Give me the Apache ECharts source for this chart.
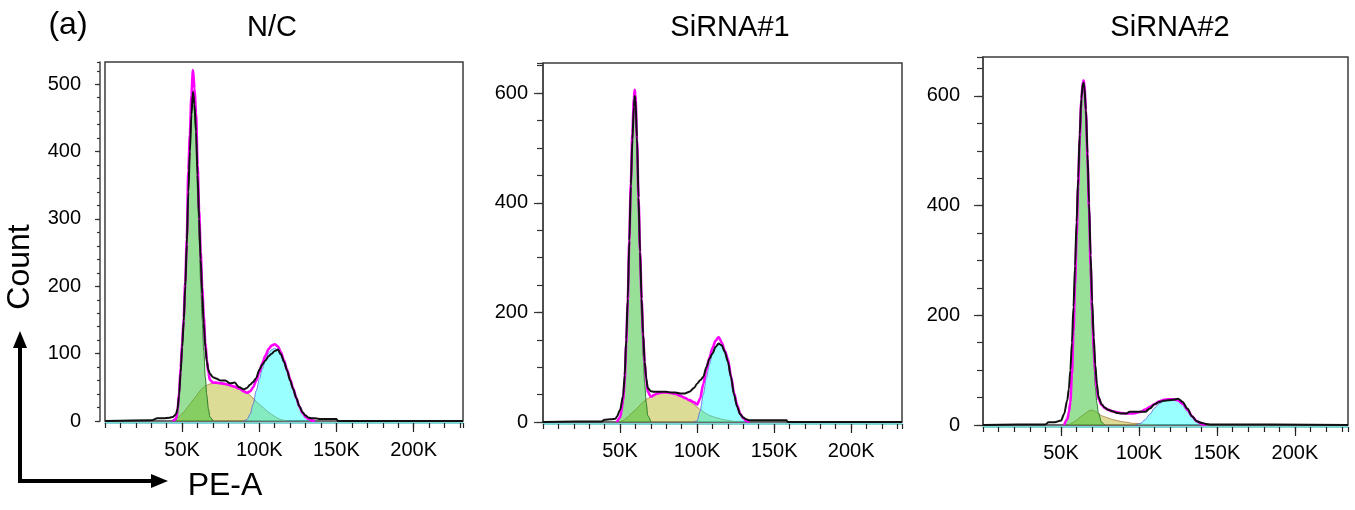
<!DOCTYPE html>
<html>
<head>
<meta charset="utf-8">
<script src="https://cdn.jsdelivr.net/npm/echarts@6/dist/echarts.min.js"></script>
<style>
  html, body { margin: 0; padding: 0; background: #fff; }
  #chart { width: 1355px; height: 510px; }
</style>
</head>
<body>
<div id="chart"></div>
<script>
// PE-A channel (in K) and counts
const nc_x = [0, 30, 34, 38, 42, 44, 46,
  47, 48, 49, 50, 51, 52, 53, 54, 55, 56, 57, 58, 59, 60, 61, 62, 63, 64, 65, 66, 67, 68,
  70, 72, 75, 78, 81, 84, 87, 90,
  92, 94, 96, 98, 100, 102, 104, 106, 108, 110, 112, 114, 116, 118, 120, 122, 124, 126, 128, 130, 132, 134, 136,
  140, 150, 151, 232];
const nc_g1 = [0, 0, 0, 0, 0, 0, 0,
  10, 35, 70, 105, 140, 190, 250, 350, 400, 455, 490, 460, 420, 340, 270, 205, 150, 105, 65, 38, 18, 6,
  0, 0, 0, 0, 0, 0, 0, 0,
  0, 0, 0, 0, 0, 0, 0, 0, 0, 0, 0, 0, 0, 0, 0, 0, 0, 0, 0, 0, 0, 0, 0,
  0, 0, 0, 0];
const nc_s = [0, 0, 0, 0, 0, 0, 3,
  5, 7, 9, 11, 13, 16, 19, 22, 25, 28, 31, 34, 37, 40, 43, 46, 48, 50, 52, 53, 54, 55,
  56, 56, 55, 54, 52, 50, 48, 45,
  42, 38, 34, 29, 25, 21, 17, 13, 10, 7, 4, 2, 1, 0, 0, 0, 0, 0, 0, 0, 0, 0, 0,
  0, 0, 0, 0];
const nc_g2 = [0, 0, 0, 0, 0, 0, 0,
  0, 0, 0, 0, 0, 0, 0, 0, 0, 0, 0, 0, 0, 0, 0, 0, 0, 0, 0, 0, 0, 0,
  0, 0, 0, 0, 0, 0, 0, 0,
  2, 10, 25, 45, 62, 78, 91, 101, 106, 108, 105, 97, 86, 73, 60, 47, 33, 20, 11, 6, 3, 1, 0,
  0, 0, 0, 0];
const nc_fit = [0, 0, 0, 0, 0, 0, 3,
  15, 42, 79, 116, 153, 206, 269, 372, 425, 483, 521, 494, 457, 380, 313, 251, 198, 155, 117, 91, 72, 61,
  57, 57, 56, 55, 53, 51, 48, 44,
  42, 44, 50, 60, 72, 86, 97, 107, 112, 114, 111, 102, 90, 76, 62, 48, 34, 21, 12, 6, 3, 1, 0,
  0, 0, 0, 0];
const nc_raw = [0, 1, 4, 4, 5, 6, 10,
  18, 38, 72, 110, 148, 200, 262, 340, 400, 455, 489, 470, 430, 365, 300, 240, 188, 145, 110, 88, 76, 70,
  65, 63, 60, 60, 56, 57, 50, 47,
  49, 54, 58, 64, 76, 84, 90, 96, 100, 104, 106, 99, 88, 75, 60, 47, 34, 22, 13, 8, 5, 4, 4,
  3, 3, 0, 0];

const s1_x = [0, 38, 40, 44, 47, 48, 50,
  52, 53, 54, 55, 56, 57, 58, 59, 59.5, 60, 61, 62, 63, 64, 65, 66, 67, 68,
  70, 72, 74, 77, 80, 83, 86, 89, 92, 95, 98,
  100, 102, 104, 106, 108, 110, 112, 114, 116, 118, 120, 122, 124, 126, 128, 130, 132, 134,
  140, 150, 158, 159, 233];
const s1_g1 = [0, 0, 0, 0, 0, 0, 8,
  35, 70, 135, 210, 320, 420, 510, 570, 588, 575, 490, 380, 280, 190, 120, 70, 35, 12,
  0, 0, 0, 0, 0, 0, 0, 0, 0, 0, 0,
  0, 0, 0, 0, 0, 0, 0, 0, 0, 0, 0, 0, 0, 0, 0, 0, 0, 0,
  0, 0, 0, 0, 0];
const s1_s = [0, 0, 0, 0, 0, 0, 0,
  3, 5, 7, 9, 12, 15, 17, 20, 21, 22, 25, 28, 31, 34, 36, 39, 41, 43,
  46, 49, 52, 54, 54, 53, 51, 48, 44, 38, 32,
  27, 23, 19, 15, 12, 10, 8, 7, 5, 4, 3, 2, 1, 1, 0, 0, 0, 0,
  0, 0, 0, 0, 0];
const s1_g2 = [0, 0, 0, 0, 0, 0, 0,
  0, 0, 0, 0, 0, 0, 0, 0, 0, 0, 0, 0, 0, 0, 0, 0, 0, 0,
  0, 0, 0, 0, 0, 0, 0, 0, 0, 0, 0,
  2, 20, 50, 80, 105, 125, 138, 143, 138, 126, 112, 82, 52, 30, 15, 7, 2, 0,
  0, 0, 0, 0, 0];
const s1_fit = [0, 0, 0, 0, 0, 0, 8,
  38, 75, 142, 219, 332, 435, 527, 590, 606, 597, 515, 408, 311, 224, 156, 109, 76, 55,
  46, 49, 52, 54, 54, 53, 51, 48, 44, 40, 36,
  32, 43, 69, 95, 117, 135, 148, 155, 145, 130, 115, 84, 53, 31, 15, 7, 2, 0,
  0, 0, 0, 0, 0];
const s1_raw = [0, 1, 4, 5, 6, 10, 22,
  48, 85, 150, 225, 330, 430, 515, 575, 595, 588, 520, 410, 310, 225, 160, 110, 80, 62,
  56, 55, 55, 55, 55, 54, 54, 52, 52, 55, 62,
  70, 76, 82, 100, 115, 125, 137, 143, 140, 128, 110, 82, 50, 28, 14, 8, 5, 3,
  3, 3, 3, 0, 0];

const s2_x = [0, 40, 42, 46, 50, 52,
  54, 55, 56, 57, 58, 59, 60, 61, 62, 63, 64, 64.5, 65, 66, 67, 68, 69, 70, 71, 72, 73, 74,
  76, 78, 80, 83, 86, 89, 92, 94, 96, 98,
  101, 104, 107, 110, 113, 116, 119, 122, 125, 128, 131, 134, 137, 140, 143, 146,
  234];
const s2_g1 = [0, 0, 0, 0, 0, 0,
  12, 25, 45, 95, 170, 250, 335, 425, 510, 575, 612, 615, 605, 555, 465, 370, 265, 180, 115, 70, 40, 22,
  5, 0, 0, 0, 0, 0, 0, 0, 0, 0,
  0, 0, 0, 0, 0, 0, 0, 0, 0, 0, 0, 0, 0, 0, 0, 0,
  0];
const s2_s = [0, 0, 0, 0, 0, 0,
  0, 1, 2, 4, 5, 7, 9, 11, 14, 16, 18, 19, 20, 22, 24, 26, 27, 27, 26, 25, 23, 21,
  17, 15, 13, 10, 8, 6, 5, 4, 3, 3,
  2, 1, 1, 0, 0, 0, 0, 0, 0, 0, 0, 0, 0, 0, 0, 0,
  0];
const s2_g2 = [0, 0, 0, 0, 0, 0,
  0, 0, 0, 0, 0, 0, 0, 0, 0, 0, 0, 0, 0, 0, 0, 0, 0, 0, 0, 0, 0, 0,
  0, 0, 0, 0, 0, 0, 0, 0, 0, 0,
  3, 10, 20, 31, 39, 44, 46, 46, 44, 37, 25, 14, 6, 2, 0, 0,
  0];
const s2_fit = [0, 0, 0, 0, 0, 0,
  10, 22, 42, 92, 170, 255, 345, 435, 522, 590, 626, 628, 620, 572, 485, 392, 290, 205, 140, 95, 65, 48,
  37, 31, 28, 25, 23, 22, 21, 21, 21, 22,
  24, 28, 33, 38, 43, 46, 47, 47, 45, 39, 28, 16, 7, 2, 0, 0,
  0];
const s2_raw = [0, 1, 5, 5, 8, 20,
  45, 65, 100, 150, 215, 290, 370, 450, 530, 595, 622, 624, 615, 575, 495, 405, 310, 225, 160, 110, 75, 52,
  38, 32, 28, 25, 22, 21, 21, 24, 24, 24,
  24, 24, 30, 38, 42, 44, 45, 46, 48, 42, 30, 16, 7, 4, 2, 1,
  0];

const titles = ["N/C", "SiRNA#1", "SiRNA#2"];

const FONT = "'Liberation Sans', Arial, sans-serif";

const panels = [
  {
    x: nc_x, g1: nc_g1, s: nc_s, g2: nc_g2, fit: nc_fit, raw: nc_raw,
    grid: { left: 105, top: 62, width: 358, height: 359 },
    xMax: 232, yMax: 533, yMajor: 100, yMinor: 20,
    yOffset: 5, yTick: [5, 3], yMargin: 19, xMargin: 17, titleX: 272,
  },
  {
    x: s1_x, g1: s1_g1, s: s1_s, g2: s1_g2, fit: s1_fit, raw: s1_raw,
    grid: { left: 543, top: 63, width: 359, height: 359 },
    xMax: 233, yMax: 655, yMajor: 200, yMinor: 50,
    yOffset: 0, yTick: [9, 6], yMargin: 15, xMargin: 17, titleX: 730,
  },
  {
    x: s2_x, g1: s2_g1, s: s2_s, g2: s2_g2, fit: s2_fit, raw: s2_raw,
    grid: { left: 983, top: 57, width: 365, height: 368 },
    xMax: 234, yMax: 671, yMajor: 200, yMinor: 50,
    yOffset: 0, yTick: [9, 6], yMargin: 23, xMargin: 16, titleX: 1170,
  },
];

const pairs = (xs, ys) => xs.map((x, i) => [x, ys[i]]);

// keep one zero on each side of the non-zero run, so a curve does not trace the baseline
const trimmed = (xs, ys) => {
  const all = pairs(xs, ys);
  const first = ys.findIndex((v) => v > 0);
  let last = ys.length - 1;
  while (last > 0 && !(ys[last] > 0)) last--;
  return all.slice(Math.max(first - 1, 0), last + 2);
};

const grids = [];
const xAxes = [];
const yAxes = [];
const series = [];
const graphics = [];

panels.forEach((p, i) => {
  grids.push({
    ...p.grid,
    show: true,
    borderColor: "#3c3c3c",
    borderWidth: 1.5,
    backgroundColor: "transparent",
    outerBoundsMode: "none",
  });

  const xBase = {
    gridIndex: i, type: "value", position: "bottom", offset: 2,
    min: 0, max: p.xMax, splitLine: { show: false },
  };
  xAxes.push({
    ...xBase,
    interval: 50,
    axisLine: { show: true, onZero: false, lineStyle: { color: "#55c8c8", width: 1.5 } },
    axisTick: { show: true, length: 9, lineStyle: { color: "#222", width: 1.2 } },
    axisLabel: {
      show: true, margin: p.xMargin, color: "#000", fontSize: 20, fontFamily: FONT,
      showMaxLabel: false, showMinLabel: false,
      formatter: (v) => (v ? v + "K" : ""),
    },
  });
  xAxes.push({
    ...xBase,
    interval: 10,
    axisLine: { show: false, onZero: false },
    axisTick: { show: true, length: 5, lineStyle: { color: "#222", width: 1.2 } },
    axisLabel: { show: false },
  });

  const yBase = {
    gridIndex: i, type: "value", position: "left", offset: p.yOffset,
    min: 0, max: p.yMax, splitLine: { show: false },
  };
  yAxes.push({
    ...yBase,
    interval: p.yMajor,
    axisLine: { show: true, onZero: false, lineStyle: { color: "#444", width: 1.5 } },
    axisTick: { show: true, length: p.yTick[0], lineStyle: { color: "#333", width: 1.2 } },
    axisLabel: {
      show: true, margin: p.yMargin, color: "#000", fontSize: 20, fontFamily: FONT,
      showMaxLabel: false,
    },
  });
  yAxes.push({
    ...yBase,
    interval: p.yMinor,
    axisLine: { show: false, onZero: false },
    axisTick: { show: true, length: p.yTick[1], lineStyle: { color: "#333", width: 1.2 } },
    axisLabel: { show: false },
  });

  const common = {
    type: "line", xAxisIndex: i * 2, yAxisIndex: i * 2,
    showSymbol: false, symbol: "none", smooth: 0.3, smoothMonotone: "x",
    silent: true, animation: false,
  };
  series.push({
    ...common, name: "S", z: 2, data: trimmed(p.x, p.s),
    lineStyle: { color: "rgba(170,120,60,0.8)", width: 1 },
    areaStyle: { color: "rgba(185,185,45,0.5)", opacity: 1 },
  });
  series.push({
    ...common, name: "G1", z: 3, data: trimmed(p.x, p.g1),
    lineStyle: { color: "#2a7a2a", width: 1 },
    areaStyle: { color: "rgba(40,190,40,0.48)", opacity: 1 },
  });
  series.push({
    ...common, name: "G2", z: 3, data: trimmed(p.x, p.g2),
    lineStyle: { color: "rgba(90,90,220,0.75)", width: 1 },
    areaStyle: { color: "rgba(0,255,255,0.4)", opacity: 1 },
  });
  series.push({
    ...common, name: "Fit", z: 4, data: trimmed(p.x, p.fit),
    lineStyle: { color: "#ff00ff", width: 2.6 },
  });
  series.push({
    ...common, name: "Raw", z: 5, data: pairs(p.x, p.raw),
    lineStyle: { color: "#111", width: 2 },
  });

  graphics.push({
    type: "text", x: p.titleX, y: 28,
    style: { text: titles[i], font: `29px ${FONT}`, fill: "#000", align: "center", verticalAlign: "middle" },
  });
});

graphics.push(
  {
    type: "text", x: 68, y: 25,
    style: { text: "(a)", font: `32px ${FONT}`, fill: "#000", align: "center", verticalAlign: "middle" },
  },
  {
    type: "text", x: 20, y: 267, rotation: Math.PI / 2,
    style: { text: "Count", font: `32px ${FONT}`, fill: "#000", align: "center", verticalAlign: "middle" },
  },
  {
    type: "text", x: 225, y: 486,
    style: { text: "PE-A", font: `32px ${FONT}`, fill: "#000", align: "center", verticalAlign: "middle" },
  },
  { type: "line", shape: { x1: 20, y1: 483, x2: 20, y2: 345 }, style: { stroke: "#000", lineWidth: 4 } },
  { type: "polygon", shape: { points: [[13, 348], [27, 348], [20, 331]] }, style: { fill: "#000" } },
  { type: "line", shape: { x1: 18, y1: 481, x2: 153, y2: 481 }, style: { stroke: "#000", lineWidth: 4 } },
  { type: "polygon", shape: { points: [[151, 474], [151, 488], [168, 481]] }, style: { fill: "#000" } }
);

const chart = echarts.init(document.getElementById("chart"), null, { renderer: "canvas" });
chart.setOption({
  animation: false,
  backgroundColor: "#fff",
  grid: grids,
  xAxis: xAxes,
  yAxis: yAxes,
  series,
  graphic: graphics,
});
</script>
</body>
</html>
